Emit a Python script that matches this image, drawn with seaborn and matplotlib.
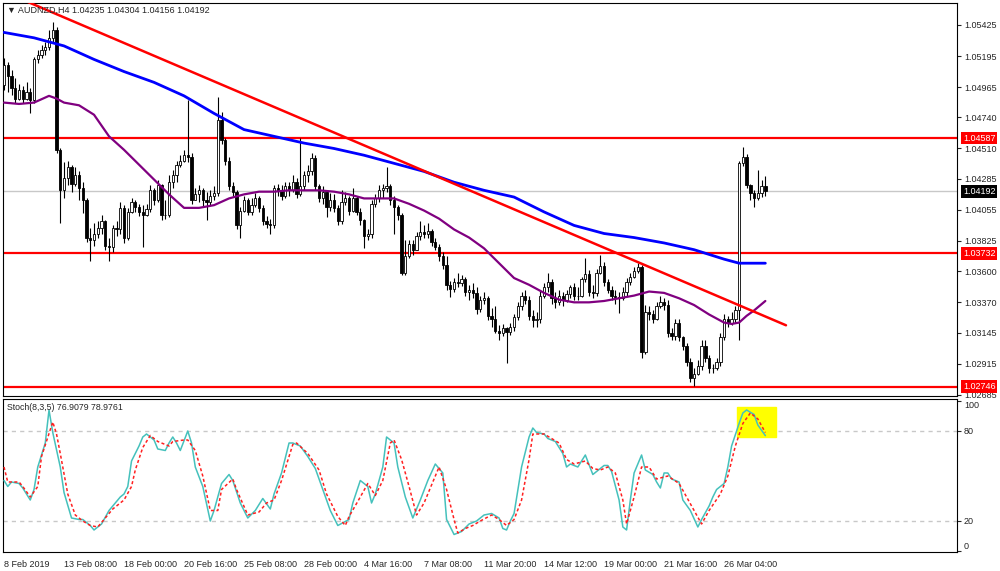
import matplotlib
matplotlib.use("Agg")
import matplotlib.pyplot as plt
import matplotlib.transforms as mtransforms
from matplotlib.patches import Rectangle
import seaborn as sns

sns.set_style("white")
plt.rcParams['font.family'] = ['Liberation Sans', 'DejaVu Sans']

# AUDNZD H4 candles (one per bar, bar 0 = 8 Feb 2019)
first_open = 1.0498
closes = [
    1.0513, 1.0505, 1.0496, 1.0488, 1.0494, 1.0488, 1.0493, 1.0487, 1.0517, 1.0520,
    1.0524, 1.0526, 1.0533, 1.0539, 1.0450, 1.0420, 1.0429, 1.0437, 1.0425, 1.0431,
    1.0422, 1.0413, 1.0385, 1.0383, 1.0388, 1.0392, 1.0397, 1.0379, 1.0378, 1.0392,
    1.0391, 1.0407, 1.0385, 1.0404, 1.0411, 1.0408, 1.0404, 1.0402, 1.0406, 1.0420,
    1.0413, 1.0424, 1.0402, 1.0402, 1.0426, 1.0431, 1.0439, 1.0442, 1.0446, 1.0445,
    1.0413, 1.0417, 1.0420, 1.0413, 1.0411, 1.0416, 1.0418, 1.0472, 1.0457, 1.0442,
    1.0423, 1.0419, 1.0394, 1.0405, 1.0413, 1.0404, 1.0409, 1.0414, 1.0407, 1.0397,
    1.0395, 1.0394, 1.0422, 1.0420, 1.0416, 1.0423, 1.0420, 1.0426, 1.0417, 1.0423,
    1.0431, 1.0434, 1.0444, 1.0423, 1.0414, 1.0419, 1.0408, 1.0413, 1.0407, 1.0397,
    1.0411, 1.0414, 1.0405, 1.0414, 1.0404, 1.0398, 1.0386, 1.0388, 1.0410, 1.0414,
    1.0420, 1.0422, 1.0423, 1.0413, 1.0408, 1.0402, 1.0359, 1.0371, 1.0380, 1.0376,
    1.0386, 1.0389, 1.0388, 1.0390, 1.0382, 1.0378, 1.0371, 1.0365, 1.0350, 1.0347,
    1.0352, 1.0351, 1.0354, 1.0345, 1.0346, 1.0344, 1.0332, 1.0339, 1.0340, 1.0327,
    1.0325, 1.0316, 1.0314, 1.0318, 1.0315, 1.0319, 1.0326, 1.0334, 1.0342, 1.0339,
    1.0327, 1.0324, 1.0325, 1.0342, 1.0348, 1.0352, 1.0340, 1.0337, 1.0342, 1.0339,
    1.0343, 1.0348, 1.0342, 1.0342, 1.0354, 1.0358, 1.0345, 1.0344, 1.0359, 1.0364,
    1.0352, 1.0346, 1.0342, 1.0341, 1.0340, 1.0345, 1.0352, 1.0356, 1.0360, 1.0363,
    1.0300, 1.0330, 1.0328, 1.0325, 1.0334, 1.0337, 1.0335, 1.0314, 1.0312, 1.0322,
    1.0311, 1.0305, 1.0293, 1.0281, 1.0284, 1.0290, 1.0305, 1.0296, 1.0288, 1.0288,
    1.0293, 1.0311, 1.0325, 1.0322, 1.0325, 1.0331, 1.0440, 1.0445, 1.0424, 1.0418,
    1.0414, 1.0418, 1.04235, 1.04192,
]
highs = [
    1.0518, 1.0515, 1.0509, 1.0503, 1.0499, 1.0497, 1.0500, 1.0496, 1.0519, 1.0524,
    1.0528, 1.0530, 1.0539, 1.0545, 1.0541, 1.0451, 1.0441, 1.0442, 1.0439, 1.0437,
    1.0434, 1.0426, 1.0414, 1.0392, 1.0396, 1.0397, 1.0402, 1.0398, 1.0385, 1.0394,
    1.0397, 1.0411, 1.0409, 1.0407, 1.0414, 1.0413, 1.0410, 1.0409, 1.0410, 1.0424,
    1.0422, 1.0428, 1.0425, 1.0413, 1.0431, 1.0435, 1.0442, 1.0446, 1.0450, 1.0487,
    1.0448, 1.0422, 1.0424, 1.0422, 1.0419, 1.0420, 1.0423, 1.0489, 1.0478, 1.0459,
    1.0445, 1.0426, 1.0420, 1.0408, 1.0416, 1.0414, 1.0414, 1.0418, 1.0416, 1.0409,
    1.0401, 1.0399, 1.0424, 1.0425, 1.0424, 1.0426, 1.0426, 1.0431, 1.0429, 1.0459,
    1.0434, 1.0439, 1.0448, 1.0446, 1.0425, 1.0423, 1.0420, 1.0418, 1.0417, 1.0409,
    1.0420, 1.0419, 1.0416, 1.0422, 1.0416, 1.0407, 1.0399, 1.0391, 1.0413, 1.0417,
    1.0424, 1.0425, 1.0437, 1.0425, 1.0416, 1.0409, 1.0403, 1.0383, 1.0383, 1.0383,
    1.0389, 1.0397, 1.0394, 1.0396, 1.0391, 1.0385, 1.0380, 1.0374, 1.0371, 1.0353,
    1.0355, 1.0359, 1.0357, 1.0356, 1.0350, 1.0351, 1.0348, 1.0342, 1.0345, 1.0342,
    1.0333, 1.0334, 1.0320, 1.0321, 1.0319, 1.0322, 1.0328, 1.0337, 1.0345, 1.0346,
    1.0342, 1.0331, 1.0330, 1.0346, 1.0351, 1.0359, 1.0354, 1.0345, 1.0346, 1.0345,
    1.0346, 1.0350, 1.0351, 1.0348, 1.0356, 1.0370, 1.0361, 1.0350, 1.0362, 1.0372,
    1.0367, 1.0354, 1.0349, 1.0346, 1.0345, 1.0348, 1.0355, 1.0359, 1.0363, 1.0366,
    1.0365, 1.0335, 1.0334, 1.0331, 1.0337, 1.0342, 1.0340, 1.0339, 1.0318, 1.0325,
    1.0325, 1.0312, 1.0307, 1.0296, 1.0288, 1.0294, 1.0309, 1.0309, 1.0298, 1.0291,
    1.0296, 1.0314, 1.0328, 1.0327, 1.0330, 1.0334, 1.0442, 1.0452, 1.0447, 1.0425,
    1.0420, 1.0435, 1.0428, 1.04304,
]
lows = [
    1.0494, 1.0493, 1.0491, 1.0485, 1.0487, 1.0485, 1.0487, 1.0477, 1.0485, 1.0514,
    1.0518, 1.0520, 1.0524, 1.0530, 1.0448, 1.0396, 1.0414, 1.0424, 1.0419, 1.0423,
    1.0413, 1.0403, 1.0382, 1.0368, 1.0379, 1.0385, 1.0388, 1.0376, 1.0368, 1.0374,
    1.0386, 1.0388, 1.0381, 1.0383, 1.0403, 1.0404, 1.0401, 1.0378, 1.0401, 1.0404,
    1.0409, 1.0411, 1.0398, 1.0399, 1.0400, 1.0422, 1.0426, 1.0437, 1.0441, 1.0441,
    1.0410, 1.0413, 1.0411, 1.0408, 1.0398, 1.0409, 1.0413, 1.0416, 1.0454, 1.0439,
    1.0420, 1.0416, 1.0391, 1.0385, 1.0404, 1.0402, 1.0402, 1.0408, 1.0404, 1.0394,
    1.0392, 1.0388, 1.0392, 1.0416, 1.0413, 1.0414, 1.0416, 1.0419, 1.0414, 1.0416,
    1.0420, 1.0426, 1.0431, 1.0420, 1.0411, 1.0410, 1.0400, 1.0405, 1.0404, 1.0394,
    1.0395, 1.0409, 1.0402, 1.0404, 1.0402, 1.0394, 1.0377, 1.0383, 1.0385, 1.0408,
    1.0411, 1.0414, 1.0419, 1.0409, 1.0388, 1.0398, 1.0357, 1.0357, 1.0370, 1.0372,
    1.0376, 1.0383, 1.0385, 1.0385, 1.0379, 1.0376, 1.0368, 1.0362, 1.0346, 1.0341,
    1.0345, 1.0348, 1.0349, 1.0342, 1.0339, 1.0340, 1.0328, 1.0330, 1.0336, 1.0324,
    1.0319, 1.0314, 1.0309, 1.0312, 1.0292, 1.0313, 1.0316, 1.0324, 1.0331, 1.0336,
    1.0324, 1.0319, 1.0319, 1.0322, 1.0340, 1.0345, 1.0336, 1.0333, 1.0335, 1.0334,
    1.0337, 1.0340, 1.0339, 1.0339, 1.0341, 1.0352, 1.0342, 1.0340, 1.0342, 1.0358,
    1.0349, 1.0344, 1.0339, 1.0336, 1.0329, 1.0339, 1.0342, 1.0350, 1.0355, 1.0359,
    1.0296, 1.0299, 1.0324, 1.0322, 1.0324, 1.0333, 1.0331, 1.0311, 1.0309, 1.0309,
    1.0308, 1.0302, 1.0290, 1.0278, 1.0275, 1.0283, 1.0287, 1.0293, 1.0285, 1.0285,
    1.0287, 1.0290, 1.0309, 1.0319, 1.0320, 1.0322, 1.0309, 1.0438, 1.0422, 1.0413,
    1.0408, 1.0413, 1.0415, 1.04156,
]

# moving averages
ma_blue_bars = [0, 8, 16, 24, 32, 40, 48, 56, 64, 72, 80, 88, 96, 104, 112, 120, 128,
                136, 144, 152, 160, 168, 176, 184, 192, 196, 200, 203]
ma_blue_vals = [1.0537, 1.0533, 1.0527, 1.0517, 1.0508, 1.0500, 1.0490, 1.0477, 1.0465,
                1.0460, 1.0455, 1.0451, 1.0446, 1.0440, 1.0434, 1.0426, 1.0420, 1.0415,
                1.0404, 1.0394, 1.0388, 1.0385, 1.0381, 1.0376, 1.0369, 1.0366, 1.0366, 1.0366]
ma_purple_bars = [0, 4, 8, 12, 14, 16, 20, 24, 28, 32, 36, 40, 44, 48, 52, 56, 60, 64, 68,
                  72, 76, 80, 84, 88, 92, 96, 100, 104, 108, 112, 116, 120, 124, 128, 132,
                  136, 140, 144, 148, 152, 156, 160, 164, 168, 172, 176, 180, 184, 188, 192,
                  194, 196, 198, 200, 203]
ma_purple_vals = [1.0485, 1.0484, 1.0485, 1.0490, 1.0488, 1.0485, 1.0483, 1.0476, 1.0460,
                  1.0450, 1.0439, 1.0428, 1.0417, 1.0407, 1.0407, 1.0409, 1.0414, 1.0417,
                  1.0419, 1.0419, 1.0420, 1.0420, 1.0420, 1.0419, 1.0417, 1.0414, 1.0414,
                  1.0414, 1.0410, 1.0405, 1.0399, 1.0391, 1.0385, 1.0377, 1.0366, 1.0355,
                  1.0350, 1.0344, 1.0339, 1.0337, 1.0337, 1.0338, 1.0340, 1.0342, 1.0345,
                  1.0344, 1.0340, 1.0335, 1.0328, 1.0322, 1.0321, 1.0322, 1.0327, 1.0331, 1.0338]

trend_bars = [6, 208.5]
trend_prices = [1.0560, 1.0320]
levels = [1.04587, 1.03732, 1.02746]
last_price = 1.04192

price_ticks = [1.05425, 1.05195, 1.04965, 1.04740, 1.04510, 1.04285, 1.04055,
               1.03825, 1.03600, 1.03370, 1.03145, 1.02915, 1.02685]
time_tick_bars = [0, 16, 32, 48, 64, 80, 96, 112, 128, 144, 160, 176, 192]
time_tick_labels = ["8 Feb 2019", "13 Feb 08:00", "18 Feb 00:00", "20 Feb 16:00",
                    "25 Feb 08:00", "28 Feb 00:00", "4 Mar 16:00", "7 Mar 08:00",
                    "11 Mar 20:00", "14 Mar 12:00", "19 Mar 00:00", "21 Mar 16:00",
                    "26 Mar 04:00"]

# Stochastic (8,3,5)
k_bars = [0, 1, 2, 4, 5, 7, 8, 9, 11, 12, 13, 15, 16, 18, 20, 21, 23, 24, 26, 28, 29, 31,
          32, 33, 34, 36, 37, 38, 40, 41, 43, 44, 45, 46, 47, 49, 50, 51, 53, 55, 56, 58,
          60, 61, 63, 65, 67, 69, 71, 72, 74, 76, 77, 79, 81, 83, 85, 87, 89, 92, 93, 95,
          97, 98, 99, 101, 102, 104, 105, 107, 109, 111, 113, 115, 117, 118, 120, 122, 124,
          126, 128, 130, 132, 133, 134, 135, 136, 138, 140, 141, 142, 144, 145, 147, 149,
          150, 151, 153, 155, 157, 158, 160, 161, 162, 164, 165, 166, 167, 168, 170, 171,
          173, 174, 175, 176, 177, 178, 180, 181, 183, 185, 186, 188, 189, 190, 192, 193,
          194, 196, 197, 198, 200, 201, 203]
k_vals = [47, 43, 46, 45, 42, 34, 41, 56, 72, 94, 79, 56, 39, 22, 21, 21, 17, 14, 18, 27,
          30, 36, 38, 43, 60, 70, 76, 78, 74, 68, 67, 72, 76, 72, 67, 80, 72, 56, 43, 20,
          27, 45, 51, 47, 32, 22, 27, 35, 28, 38, 52, 72, 72, 70, 63, 55, 41, 27, 17, 21,
          32, 47, 43, 32, 38, 56, 76, 72, 56, 36, 22, 34, 47, 58, 52, 21, 11, 13, 18, 20,
          24, 25, 22, 15, 14, 20, 25, 56, 76, 82, 79, 78, 75, 73, 65, 56, 58, 56, 64, 51,
          53, 57, 57, 53, 34, 16, 14, 34, 52, 64, 54, 51, 46, 42, 52, 52, 48, 46, 34, 27,
          16, 21, 30, 36, 41, 45, 56, 70, 85, 92, 94, 91, 84, 76.9079]
d_bars = [0, 1, 4, 5, 7, 9, 10, 13, 14, 15, 17, 19, 21, 23, 25, 27, 29, 32, 34, 35, 37,
          39, 41, 44, 45, 48, 49, 51, 53, 55, 57, 58, 61, 62, 65, 68, 70, 72, 74, 77, 78,
          81, 84, 86, 89, 91, 92, 95, 97, 99, 101, 103, 104, 106, 108, 110, 112, 115, 116,
          118, 120, 121, 123, 125, 127, 130, 132, 134, 136, 138, 140, 141, 144, 146, 148,
          150, 152, 155, 157, 159, 161, 163, 165, 166, 168, 170, 172, 174, 177, 180, 182,
          184, 186, 188, 191, 193, 195, 197, 199, 201, 203]
d_vals = [56, 46, 46, 43, 36, 43, 63, 86, 78, 65, 38, 24, 20, 17, 16, 22, 28, 34, 43, 54,
          69, 77, 73, 70, 73, 74, 74, 67, 50, 27, 27, 41, 48, 41, 24, 26, 32, 34, 47, 71,
          72, 65, 54, 38, 23, 17, 23, 36, 45, 37, 47, 72, 74, 61, 43, 24, 32, 50, 56, 41,
          21, 12, 15, 17, 20, 24, 21, 17, 21, 34, 61, 78, 78, 75, 72, 61, 58, 60, 55, 54,
          56, 52, 34, 18, 36, 56, 56, 48, 50, 45, 36, 27, 18, 27, 38, 50, 70, 85, 92, 88,
          78.9761]

W, H = 1000, 571
fig = plt.figure(figsize=(W / 100, H / 100), dpi=100)
fig.patch.set_facecolor("white")


def box(x0, y0, x1, y1):
    return [x0 / W, 1 - y1 / H, (x1 - x0) / W, (y1 - y0) / H]


ax = fig.add_axes(box(3, 3, 957, 396))
ax2 = fig.add_axes(box(3, 399, 957, 552), sharex=ax)

bars = list(range(len(closes)))
opens = [first_open] + closes[:-1]
up = [c >= o for o, c in zip(opens, closes)]

# candles
ax.vlines(bars, lows, highs, color="black", lw=0.8, zorder=3)
ax.bar(bars, [c - o for o, c in zip(opens, closes)], bottom=opens, width=0.62,
       color=["white" if u else "black" for u in up], edgecolor="black", lw=0.6, zorder=4)

for lv in levels:
    ax.axhline(lv, color="#ff0000", lw=1.6, zorder=2)
ax.axhline(last_price, color="#c8c8c8", lw=1, zorder=1)

sns.lineplot(x=ma_blue_bars, y=ma_blue_vals, ax=ax, color="#0000ff", lw=2, zorder=5)
sns.lineplot(x=ma_purple_bars, y=ma_purple_vals, ax=ax, color="#800080", lw=1.6, zorder=5)
sns.lineplot(x=trend_bars, y=trend_prices, ax=ax, color="#ff0000", lw=1.8, zorder=6)

ax.set_xlim(-0.27, 254.1)
ax.set_ylim(1.02676, 1.05588)
ax.yaxis.tick_right()
ax.set_yticks(price_ticks)
ax.set_yticklabels([f"{p:.5f}" for p in price_ticks])
ax.tick_params(axis="y", direction="out", length=3, width=0.8, pad=2, labelsize=6.5)
ax.tick_params(axis="x", bottom=False, labelbottom=False)

trans = mtransforms.blended_transform_factory(ax.transAxes, ax.transData)
for lv, fc in [(1.04587, "#ff0000"), (1.03732, "#ff0000"), (1.02746, "#ff0000"),
               (last_price, "black")]:
    ax.text(1.0063, lv, f"{lv:.5f}", transform=trans, color="white", fontsize=6.5,
            ha="left", va="center", clip_on=False,
            bbox=dict(boxstyle="square,pad=0.18", fc=fc, ec="none"))

# stochastic panel
ax2.add_patch(Rectangle((195.5, 76), 10.4, 20, color="#ffff00", zorder=1.5))
for lv in (80, 20):
    ax2.axhline(lv, color="#c8c8c8", lw=1, ls=(0, (3, 3)), zorder=1)
sns.lineplot(x=k_bars, y=k_vals, ax=ax2, color="#45c1bc", lw=1.1, zorder=3)
sns.lineplot(x=d_bars, y=d_vals, ax=ax2, color="#ff2020", lw=1.1, ls=(0, (2, 1.6)), zorder=4)

ax2.set_ylim(-0.67, 101.33)
ax2.yaxis.tick_right()
ax2.set_yticks([100, 80, 20, 0])
ax2.set_yticklabels(["100", "80", "20", "0"])
ax2.tick_params(axis="y", direction="out", length=3, width=0.8, pad=2, labelsize=6.5)
for lbl in ax2.get_yticklabels():
    if lbl.get_text() == "100":
        lbl.set_va("top")
    elif lbl.get_text() == "0":
        lbl.set_va("bottom")
ax2.set_xticks(time_tick_bars)
ax2.set_xticklabels(time_tick_labels, ha="left")
ax2.tick_params(axis="x", direction="out", length=4, width=0.8, pad=2, labelsize=6.5)

for a in (ax, ax2):
    a.set_xlabel("")
    a.set_ylabel("")
    for s in a.spines.values():
        s.set_color("black")
        s.set_linewidth(0.8)

fig.text(7 / W, 1 - 10 / H, "▼ AUDNZD,H4 1.04235 1.04304 1.04156 1.04192",
         fontsize=6.5, va="center", ha="left")
fig.text(7 / W, 1 - 407 / H, "Stoch(8,3,5) 76.9079 78.9761",
         fontsize=6.3, va="center", ha="left")

fig.savefig("out.png", dpi=100, facecolor="white")
